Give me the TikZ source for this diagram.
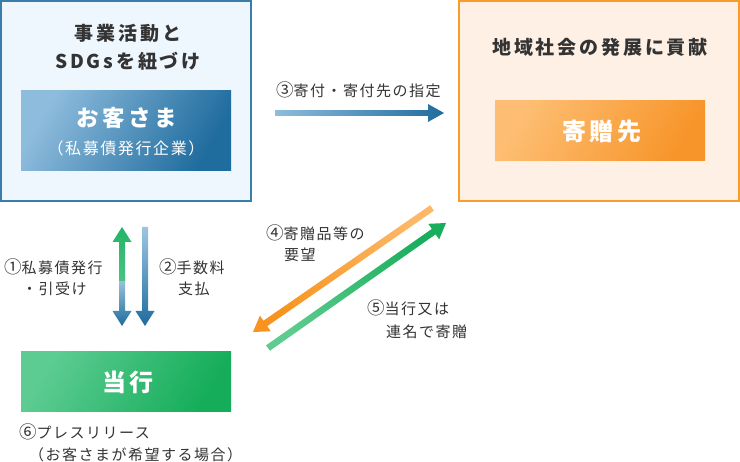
\documentclass[tikz,border=0pt]{standalone}
\usepackage{fontspec}
\setmainfont{Noto Sans CJK JP}
\newfontfamily\lblfont{Noto Sans CJK JP}[LetterSpace=10]
\newfontfamily\ttlfont{Noto Sans CJK JP}[LetterSpace=15]
\usetikzlibrary{calc}
\definecolor{txt}{HTML}{333333}
\definecolor{bluebd}{HTML}{3A7DA9}
\definecolor{bluebg}{HTML}{EEF6FE}
\definecolor{orbd}{HTML}{F89C2C}
\definecolor{orbg}{HTML}{FEF0E4}
\definecolor{bluelt}{HTML}{8EBCDD}
\definecolor{bluedk}{HTML}{1F6C9E}
\definecolor{orlt}{HTML}{FDBE73}
\definecolor{ordk}{HTML}{F7952A}
\definecolor{grlt}{HTML}{5DCC92}
\definecolor{grdk}{HTML}{15AD5A}
\definecolor{arblt}{HTML}{9DC5E3}
\definecolor{arblt2}{HTML}{A6CAE5}
\definecolor{argrtop}{HTML}{22B466}
\definecolor{argrbot}{HTML}{4CC283}
\definecolor{arorlt}{HTML}{FDB767}
\definecolor{arordk}{HTML}{F7931E}
\definecolor{argrlt}{HTML}{5ECB8F}
\definecolor{argrdk}{HTML}{18AE5C}
\newcommand\mygradarrow[6]{%
  \coordinate (tmpq) at ($(#2)!#6!(#1)$);
  \shade[#3] ($(#1)!#4!90:(#2)$) -- ($(tmpq)!#4!-90:(#1)$) -- ($(tmpq)!#5!-90:(#1)$) -- (#2) -- ($(tmpq)!#5!90:(#1)$) -- ($(tmpq)!#4!90:(#1)$) -- ($(#1)!#4!-90:(#2)$) -- cycle;}
\newcommand\mycnum[1]{{\fontsize{17.5}{18}\selectfont #1}}
\begin{document}
\begin{tikzpicture}[x=1pt,y=-1pt,
  lbl/.style={anchor=west,inner sep=0pt,text=txt,font=\lblfont\fontsize{15}{18}\selectfont},
  ttl/.style={inner sep=0pt,text=txt,font=\ttlfont\bfseries\fontsize{19}{22}\selectfont},
  bigw/.style={inner sep=0pt,text=white,font=\ttlfont\bfseries\fontsize{24}{28}\selectfont},
  frame/.style={line width=2pt,inner sep=0pt},
  gbox/.style={inner sep=0pt,minimum width=210pt}]
\useasboundingbox (0,0) rectangle (740,462);
% outer frames
\node[frame,draw=bluebd,fill=bluebg,minimum width=250pt,minimum height=200pt] (lbox) at (126,101) {};
\node[frame,draw=orbd,fill=orbg,minimum width=280pt,minimum height=200pt] (rbox) at (599,101) {};
% titles
\node[ttl] (t1a) at (128,33) {事業活動と};
\node[ttl] (t1b) at (128,61) {SDGsを紐づけ};
\node[ttl] (t2) at (600,47) {地域社会の発展に貢献};
% inner boxes
\node[gbox,minimum height=80pt,top color=bluelt,bottom color=bluedk,shading angle=60] (cust) at (126,131) {};
\node[inner sep=0pt,text=white,font=\ttlfont\bfseries\fontsize{22.5}{26}\selectfont] (custa) at (127,118) {お客さま};
\node[inner sep=0pt,text=white,font=\lblfont\fontsize{16}{19}\selectfont] (custb) at (126,148) {（私募債発行企業）};
\node[gbox,minimum height=60pt,top color=orlt,bottom color=ordk,shading angle=60] (don) at (600,131) {};
\node[bigw] (dont) at (602,131) {寄贈先};
\node[gbox,minimum height=60pt,top color=grlt,bottom color=grdk,shading angle=60] (bank) at (126,382) {};
\node[bigw] (bankt) at (128,382) {当行};
% arrow end points
\coordinate (a3t) at (275,113);
\coordinate (a3h) at (444,113);
\coordinate (a2t) at (145,227);
\coordinate (a2h) at (145,326);
\coordinate (a1bt) at (122,276);
\coordinate (a1bh) at (122,326);
\coordinate (a1gt) at (122,281);
\coordinate (a1gh) at (122,227);
\coordinate (a4t) at (432,208);
\coordinate (a4h) at (253,332);
\coordinate (a5t) at (268,348);
\coordinate (a5h) at (446,223);
% arrows
\mygradarrow{a3t}{a3h}{left color=bluelt,right color=bluedk}{2.8pt}{9pt}{16pt}
\mygradarrow{a2t}{a2h}{top color=arblt,bottom color=bluedk}{3pt}{9.5pt}{15pt}
\mygradarrow{a1bt}{a1bh}{top color=arblt2,bottom color=bluedk}{3pt}{9.5pt}{15pt}
\mygradarrow{a1gt}{a1gh}{top color=argrtop,bottom color=argrbot}{3pt}{9.5pt}{15pt}
\mygradarrow{a4t}{a4h}{top color=arorlt,bottom color=arordk,shading angle=-55.3}{3.3pt}{9.5pt}{15pt}
\mygradarrow{a5t}{a5h}{top color=argrlt,bottom color=argrdk,shading angle=125.1}{3.3pt}{9.5pt}{15pt}
% labels
\node[lbl] (l3) at (276,90) {\mycnum{③}寄付・寄付先の指定};
\node[lbl] (l1a) at (4,267) {\mycnum{①}私募債発行};
\node[lbl] (l1b) at (22,289) {・引受け};
\node[lbl] (l2a) at (159,267) {\mycnum{②}手数料};
\node[lbl] (l2b) at (178,289) {支払};
\node[lbl] (l4a) at (266,233) {\mycnum{④}寄贈品等の};
\node[lbl] (l4b) at (284,255) {要望};
\node[lbl] (l5a) at (367,308) {\mycnum{⑤}当行又は};
\node[lbl] (l5b) at (386,332) {連名で寄贈};
\node[lbl] (l6a) at (19,432) {\mycnum{⑥}プレスリリース};
\node[lbl] (l6b) at (29,455) {（お客さまが希望する場合）};
\end{tikzpicture}
\end{document}
